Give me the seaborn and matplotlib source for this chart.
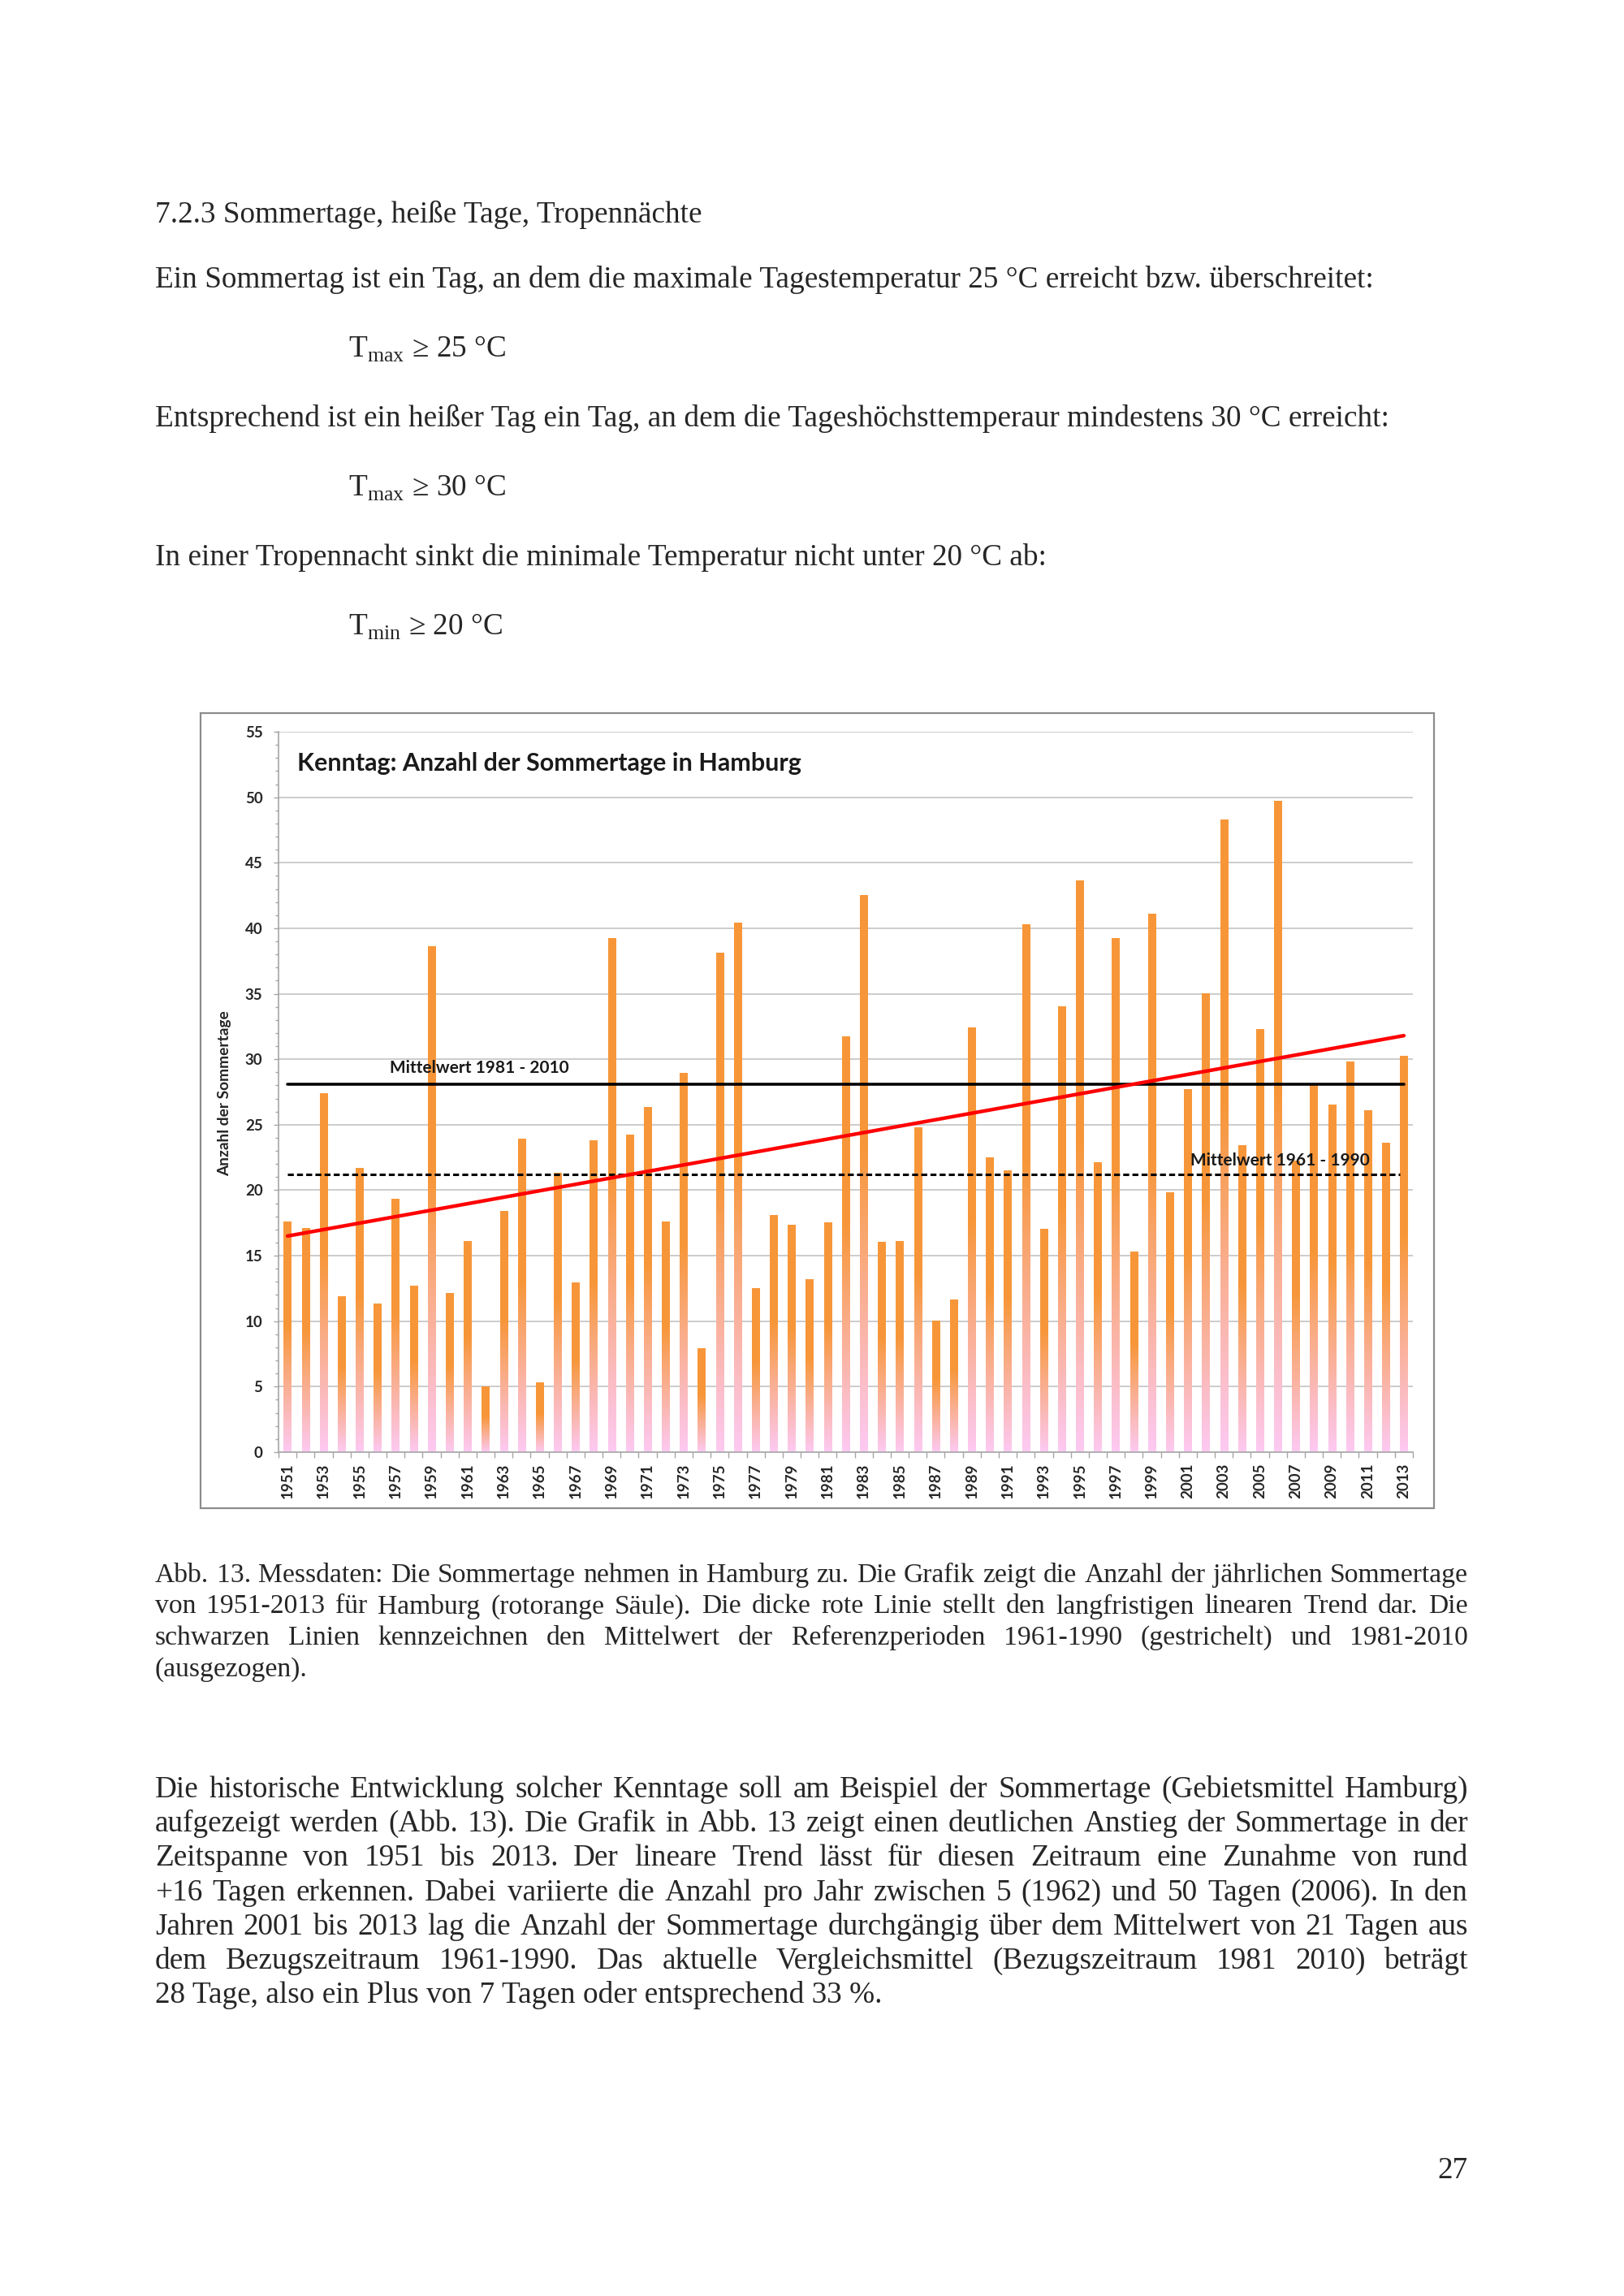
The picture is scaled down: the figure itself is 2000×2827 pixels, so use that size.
import matplotlib
matplotlib.use("Agg")
import numpy as np
import pandas as pd
import matplotlib.pyplot as plt
import matplotlib.transforms as mtransforms
from matplotlib.patches import Rectangle
from matplotlib.ticker import MultipleLocator
import seaborn as sns

# --- data ---
years = list(range(1951, 2014))
summer_days = [
    17.6, 17.1, 27.4, 11.9, 21.7, 11.3, 19.3, 12.7, 38.6, 12.1,   # 1951-1960
    16.1, 5.0, 18.4, 23.9, 5.3, 21.3, 12.9, 23.8, 39.2, 24.2,     # 1961-1970
    26.3, 17.6, 28.9, 7.9, 38.1, 40.4, 12.5, 18.1, 17.3, 13.2,    # 1971-1980
    17.5, 31.7, 42.5, 16.0, 16.1, 24.8, 10.0, 11.6, 32.4, 22.5,   # 1981-1990
    21.5, 40.3, 17.0, 34.0, 43.6, 22.1, 39.2, 15.3, 41.1, 19.8,   # 1991-2000
    27.7, 35.0, 48.3, 23.4, 32.3, 49.7, 22.2, 28.0, 26.5, 29.8,   # 2001-2010
    26.1, 23.6, 30.2,                                             # 2011-2013
]
trend_years = [1951, 2013]
trend_values = [16.5, 31.8]
mean_1981_2010 = 28.1
mean_1961_1990 = 21.2

heading = "7.2.3 Sommertage, heiße Tage, Tropennächte"
intro_lines = [
    "Ein Sommertag ist ein Tag, an dem die maximale Tagestemperatur 25 °C erreicht bzw. überschreitet:",
    "Entsprechend ist ein heißer Tag ein Tag, an dem die Tageshöchsttemperaur mindestens 30 °C erreicht:",
    "In einer Tropennacht sinkt die minimale Temperatur nicht unter 20 °C ab:",
]
formulas = [
    r"$\mathrm{T}_{\mathrm{max}}$ ≥ 25 °C",
    r"$\mathrm{T}_{\mathrm{max}}$ ≥ 30 °C",
    r"$\mathrm{T}_{\mathrm{min}}$ ≥ 20 °C",
]
caption_lines = [
    "Abb. 13. Messdaten: Die Sommertage nehmen in Hamburg zu. Die Grafik zeigt die Anzahl der jährlichen Sommertage",
    "von 1951-2013 für Hamburg (rotorange Säule). Die dicke rote Linie stellt den langfristigen linearen Trend dar. Die",
    "schwarzen Linien kennzeichnen den Mittelwert der Referenzperioden 1961-1990 (gestrichelt) und 1981-2010",
    "(ausgezogen).",
]
body_lines = [
    "Die historische Entwicklung solcher Kenntage soll am Beispiel der Sommertage (Gebietsmittel Hamburg)",
    "aufgezeigt werden (Abb. 13). Die Grafik in Abb. 13 zeigt einen deutlichen Anstieg der Sommertage in der",
    "Zeitspanne von 1951 bis 2013. Der lineare Trend lässt für diesen Zeitraum eine Zunahme von rund",
    "+16 Tagen erkennen. Dabei variierte die Anzahl pro Jahr zwischen 5 (1962) und 50 Tagen (2006). In den",
    "Jahren 2001 bis 2013 lag die Anzahl der Sommertage durchgängig über dem Mittelwert von 21 Tagen aus",
    "dem Bezugszeitraum 1961-1990. Das aktuelle Vergleichsmittel (Bezugszeitraum 1981 2010) beträgt",
    "28 Tage, also ein Plus von 7 Tagen oder entsprechend 33 %.",
]

W, H = 2000, 2827
SERIF = "Liberation Serif"
orange = np.array([0.97, 0.59, 0.22])
pink = np.array([0.99, 0.79, 0.95])

sns.set_style("white")
plt.rcParams["font.family"] = ["Lato", "DejaVu Sans"]
plt.rcParams["mathtext.fontset"] = "custom"
plt.rcParams["mathtext.rm"] = SERIF

fig = plt.figure(figsize=(W / 100, H / 100), dpi=100)
ident = mtransforms.IdentityTransform()
renderer = fig.canvas.get_renderer()


def put_line(text, x0, x1, y, size, justify=True):
    # y is measured from the top of the page (baseline)
    if not justify:
        fig.text(x0, H - y, text, transform=ident, fontsize=size,
                 family=[SERIF, "DejaVu Sans"], va="baseline", ha="left")
        return
    words = text.split(" ")
    objs = [fig.text(0, H - y, w, transform=ident, fontsize=size,
                     family=[SERIF, "DejaVu Sans"], va="baseline", ha="left")
            for w in words]
    widths = [o.get_window_extent(renderer).width for o in objs]
    gap = (x1 - x0 - sum(widths)) / (len(words) - 1)
    x = x0
    for o, w in zip(objs, widths):
        o.set_x(x)
        x += w + gap


LEFT, RIGHT = 191, 1808
BODY = 26.8
CAP = 24.2

# page text above the chart
put_line(heading, LEFT, RIGHT, 274, BODY, justify=False)
for i, line in enumerate(intro_lines):
    put_line(line, LEFT, RIGHT, 354 + i * 171, BODY, justify=False)
for i, f in enumerate(formulas):
    put_line(f, 429, RIGHT, 440 + i * 171, BODY, justify=False)

# chart frame
fig.add_artist(Rectangle((247 / W, 1 - 1857 / H), (1766 - 247) / W, (1857 - 878) / H,
                         transform=fig.transFigure, fill=False,
                         edgecolor="#8C8C8C", lw=1.6))

ax = fig.add_axes([343 / W, 1 - 1788 / H, (1740 - 343) / W, (1788 - 901) / H])
df = pd.DataFrame({"Jahr": [str(y) for y in years], "Sommertage": summer_days})
sns.barplot(data=df, x="Jahr", y="Sommertage", color=orange, width=0.42,
            saturation=1, ax=ax)

# orange -> pink gradient in each bar
frac = np.linspace(0, 1, 200)
mix = np.clip(frac / 0.55, 0, 1)[:, None]
grad = (pink + (orange - pink) * mix)[:, None, :]
for p in ax.patches:
    x, w, h = p.get_x(), p.get_width(), p.get_height()
    ax.imshow(grad, extent=(x, x + w, 0, h), origin="lower", aspect="auto",
              interpolation="bilinear", zorder=2)
    p.set_visible(False)

pos = {y: i for i, y in enumerate(years)}
ax.plot([pos[trend_years[0]], pos[trend_years[1]]], [mean_1981_2010] * 2,
        color="black", lw=2.6, zorder=3)
ax.plot([pos[trend_years[0]], pos[trend_years[1]] - 0.2], [mean_1961_1990] * 2,
        color="black", lw=2.2, ls=(0, (2.4, 1.3)), zorder=3)
ax.plot([pos[y] for y in trend_years], trend_values, color="#FF0000", lw=3.2,
        zorder=4, solid_capstyle="round")

ax.text(5.68, 29.35, "Mittelwert 1981 - 2010", fontsize=15, fontweight="bold",
        color="#1a1a1a", va="center", ha="left", zorder=5)
ax.text(50.14, 22.26, "Mittelwert 1961 - 1990", fontsize=15, fontweight="bold",
        color="#1a1a1a", va="center", ha="left", zorder=5)
ax.text(0.54, 52.6, "Kenntag: Anzahl der Sommertage in Hamburg", fontsize=22,
        fontweight="bold", color="#1a1a1a", va="center", ha="left", zorder=5)

ax.set_xlim(-0.5, len(years) - 0.5)
ax.set_ylim(0, 55)
ax.set_yticks(range(0, 56, 5))
ax.yaxis.set_minor_locator(MultipleLocator(1))
ax.set_xticks(range(0, len(years), 2), [str(y) for y in years[::2]])
ax.set_xticks(np.arange(-0.5, len(years), 1), minor=True)
ax.tick_params(axis="y", which="major", length=4, width=1, color="#A6A6A6",
               direction="out", pad=10, labelsize=13.5, labelcolor="#262626", left=True)
ax.tick_params(axis="y", which="minor", length=3, width=1, color="#A6A6A6",
               direction="out", left=True)
ax.tick_params(axis="x", which="major", length=0, pad=10, labelsize=13.5,
               labelrotation=90, labelcolor="#262626")
ax.tick_params(axis="x", which="minor", length=5, width=1, color="#A6A6A6",
               direction="out", bottom=True)
for lbl in ax.get_xticklabels() + ax.get_yticklabels():
    lbl.set_fontweight("bold")

ax.set_axisbelow(True)
ax.yaxis.grid(True, color="#BFBFBF", lw=1.1)
ax.xaxis.grid(False)
sns.despine(ax=ax)
for side in ["left", "bottom"]:
    ax.spines[side].set_color("#A6A6A6")
    ax.spines[side].set_linewidth(1.2)

ax.set_xlabel("")
ax.set_ylabel("Anzahl der Sommertage", fontsize=13.8, fontweight="bold", color="#262626")
ax.yaxis.set_label_coords(-0.0415, 0.498)

# caption and paragraph below the chart
for i, line in enumerate(caption_lines):
    put_line(line, LEFT, RIGHT, 1948 + i * 38.5, CAP, justify=i < len(caption_lines) - 1)
for i, line in enumerate(body_lines):
    put_line(line, LEFT, RIGHT, 2213 + i * 42.2, BODY, justify=i < len(body_lines) - 1)

fig.text(RIGHT, H - 2682, "27", transform=ident, fontsize=BODY, family=SERIF,
         ha="right", va="baseline")

fig.savefig("out.png", dpi=100, facecolor="white")
